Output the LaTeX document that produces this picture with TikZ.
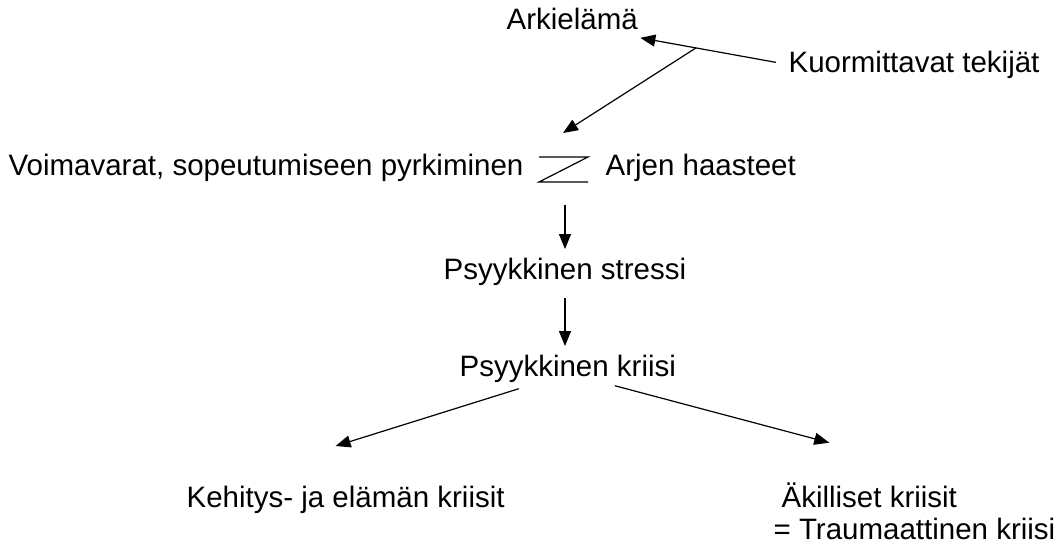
\documentclass[tikz,border=0pt]{standalone}
\usepackage{fontspec}
\setmainfont{Liberation Sans}
\usetikzlibrary{arrows.meta,calc}

\begin{document}
\begin{tikzpicture}[x=1pt, y=-1pt, line width=1.2pt,
  every node/.style={font=\fontsize{29.5}{35}\selectfont, inner sep=0pt, anchor=base west},
  nuoli/.style={-{Triangle[length=15pt,width=12pt]}}]
\useasboundingbox (0,0) rectangle (1063,545);
\node (arki) at (506,30) {Arkielämä};
\node (kuorm) at (788,73) {Kuormittavat tekijät};
\node (voima) at (8,176) {Voimavarat, sopeutumiseen pyrkiminen};
\node (haaste) at (605,176) {Arjen haasteet};
\node (stressi) at (443,280) {Psyykkinen stressi};
\node (kriisi) at (459,377) {Psyykkinen kriisi};
\node (kehitys) at (186,507) {Kehitys- ja elämän kriisit};
\node (akill) at (781,507) {Äkilliset kriisit};
\node (trauma) at (773,539) {= Traumaattinen kriisi};
\coordinate (zz) at (563,170);
\draw ($(zz)+(-24,-13)$) -- ++(49,0) -- ++(-49,25) -- ++(49,0);
\draw[nuoli] ($(kuorm.west)+(-12,-3)$) -- coordinate[pos=0.59] (haara) ($(arki.south east)+(2,7)$);
\draw[nuoli] (haara) -- ($(zz)+(0,-37)$);
\draw[nuoli] ($(zz)+(2,35)$) -- ($(zz |- stressi.north)+(2,-9)$);
\draw[nuoli] ($(zz |- stressi.south)+(2,11)$) -- ($(zz |- kriisi.north)+(2,-9)$);
\draw[nuoli] ($(kriisi.south)+(-49,5)$) -- ($(kehitys.north)+(-10,-39)$);
\draw[nuoli] ($(kriisi.south)+(47,2)$) -- ($(akill.north)+(-40,-39)$);
\end{tikzpicture}
\end{document}
